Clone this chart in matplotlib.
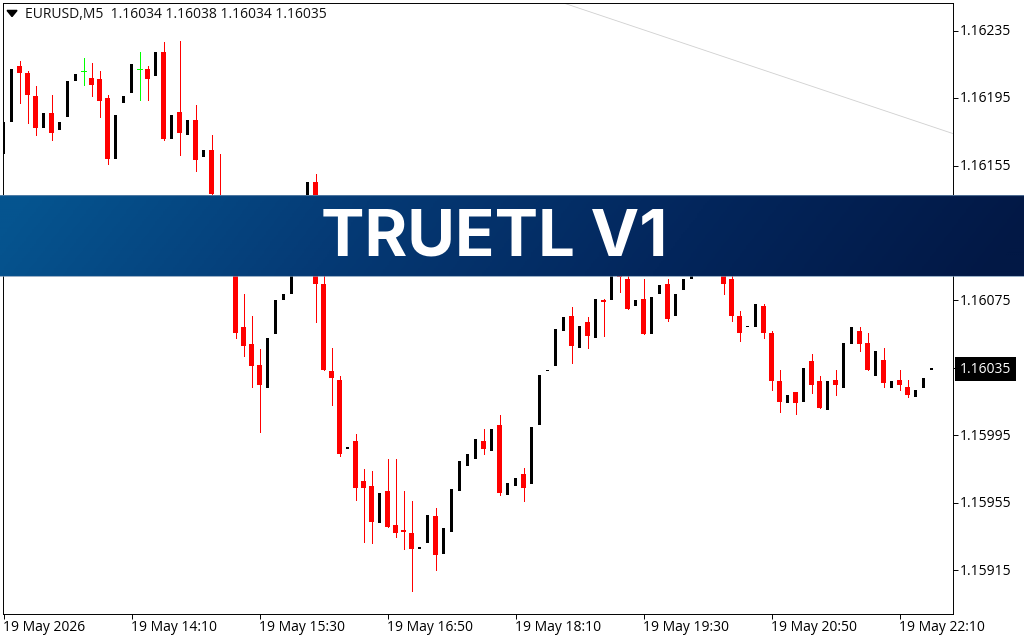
import numpy as np
import matplotlib
matplotlib.use('Agg')
import matplotlib.pyplot as plt
from matplotlib.colors import LinearSegmentedColormap
from matplotlib.transforms import blended_transform_factory

# EURUSD M5 bars (those behind the banner are guesses)
opens = [1.16162, 1.16181, 1.16214, 1.16210, 1.16196, 1.16177, 1.16186, 1.16176, 1.16184, 1.16205,
         1.16211, 1.16207, 1.16206, 1.16195, 1.16159, 1.16192, 1.16198, 1.16212, 1.16212, 1.16208,
         1.16222, 1.16171, 1.16187, 1.16173, 1.16182, 1.16160, 1.16164, 1.16137, 1.16115, 1.16102,
         1.16059, 1.16049, 1.16037, 1.16023, 1.16055, 1.16075, 1.16079, 1.16098, 1.16113, 1.16145,
         1.16085, 1.16033, 1.16028, 1.15987, 1.15992, 1.15968, 1.15965, 1.15943, 1.15962, 1.15942,
         1.15939, 1.15937, 1.15928, 1.15931, 1.15947, 1.15925, 1.15938, 1.15962, 1.15977, 1.15981,
         1.15992, 1.15986, 1.16001, 1.15960, 1.15965, 1.15972, 1.15966, 1.16001, 1.16033, 1.16036,
         1.16057, 1.16066, 1.16047, 1.16062, 1.16053, 1.16075, 1.16075, 1.16094, 1.16088, 1.16072,
         1.16076, 1.16055, 1.16079, 1.16085, 1.16066, 1.16081, 1.16088, 1.16098, 1.16111, 1.16105,
         1.16098, 1.16088, 1.16066, 1.16059, 1.16059, 1.16072, 1.16056, 1.16027, 1.16014, 1.16021,
         1.16015, 1.16039, 1.16027, 1.16010, 1.16028, 1.16023, 1.16049, 1.16057, 1.16050, 1.16030,
         1.16040, 1.16023, 1.16028, 1.16024, 1.16018, 1.16023, 1.16034]
highs = [1.16181, 1.16212, 1.16217, 1.16211, 1.16202, 1.16186, 1.16197, 1.16181, 1.16205, 1.16209,
         1.16219, 1.16216, 1.16211, 1.16197, 1.16185, 1.16196, 1.16215, 1.16222, 1.16214, 1.16222,
         1.16228, 1.16185, 1.16229, 1.16182, 1.16191, 1.16164, 1.16173, 1.16162, 1.16118, 1.16105,
         1.16079, 1.16066, 1.16046, 1.16053, 1.16075, 1.16079, 1.16099, 1.16113, 1.16145, 1.16150,
         1.16096, 1.16047, 1.16030, 1.15988, 1.15996, 1.15975, 1.15974, 1.15961, 1.15981, 1.15981,
         1.15962, 1.15956, 1.15929, 1.15948, 1.15952, 1.15940, 1.15963, 1.15980, 1.15984, 1.15993,
         1.15999, 1.15999, 1.16007, 1.15967, 1.15970, 1.15976, 1.16000, 1.16031, 1.16034, 1.16058,
         1.16065, 1.16071, 1.16060, 1.16065, 1.16076, 1.16076, 1.16094, 1.16100, 1.16098, 1.16075,
         1.16088, 1.16077, 1.16084, 1.16088, 1.16079, 1.16088, 1.16098, 1.16108, 1.16114, 1.16108,
         1.16100, 1.16093, 1.16069, 1.16060, 1.16073, 1.16073, 1.16057, 1.16034, 1.16019, 1.16021,
         1.16035, 1.16043, 1.16030, 1.16027, 1.16034, 1.16050, 1.16059, 1.16059, 1.16056, 1.16045,
         1.16047, 1.16027, 1.16034, 1.16028, 1.16022, 1.16029, 1.16038]
lows = [1.16162, 1.16181, 1.16192, 1.16180, 1.16173, 1.16177, 1.16170, 1.16176, 1.16184, 1.16205,
        1.16203, 1.16196, 1.16184, 1.16156, 1.16159, 1.16192, 1.16198, 1.16194, 1.16194, 1.16208,
        1.16170, 1.16171, 1.16161, 1.16173, 1.16152, 1.16160, 1.16136, 1.16111, 1.16100, 1.16053,
        1.16042, 1.16024, 1.15997, 1.16023, 1.16055, 1.16075, 1.16079, 1.16098, 1.16113, 1.16062,
        1.16034, 1.16013, 1.15983, 1.15987, 1.15957, 1.15932, 1.15931, 1.15943, 1.15941, 1.15935,
        1.15928, 1.15903, 1.15928, 1.15931, 1.15915, 1.15925, 1.15938, 1.15962, 1.15977, 1.15981,
        1.15984, 1.15986, 1.15960, 1.15960, 1.15965, 1.15956, 1.15966, 1.16001, 1.16033, 1.16036,
        1.16057, 1.16038, 1.16047, 1.16047, 1.16053, 1.16054, 1.16075, 1.16080, 1.16070, 1.16072,
        1.16055, 1.16055, 1.16079, 1.16063, 1.16066, 1.16081, 1.16088, 1.16098, 1.16098, 1.16090,
        1.16079, 1.16063, 1.16051, 1.16059, 1.16059, 1.16053, 1.16022, 1.16009, 1.16014, 1.16008,
        1.16015, 1.16020, 1.16011, 1.16010, 1.16019, 1.16023, 1.16049, 1.16045, 1.16034, 1.16030,
        1.16024, 1.16023, 1.16022, 1.16018, 1.16018, 1.16023, 1.16034]
closes = [1.16181, 1.16212, 1.16210, 1.16197, 1.16177, 1.16186, 1.16174, 1.16181, 1.16205, 1.16209,
          1.16211, 1.16203, 1.16193, 1.16159, 1.16185, 1.16196, 1.16215, 1.16212, 1.16206, 1.16222,
          1.16171, 1.16185, 1.16174, 1.16182, 1.16158, 1.16164, 1.16138, 1.16117, 1.16104, 1.16056,
          1.16048, 1.16036, 1.16025, 1.16053, 1.16075, 1.16079, 1.16099, 1.16113, 1.16145, 1.16085,
          1.16034, 1.16029, 1.15984, 1.15988, 1.15964, 1.15964, 1.15944, 1.15961, 1.15941, 1.15937,
          1.15938, 1.15928, 1.15929, 1.15948, 1.15924, 1.15940, 1.15963, 1.15980, 1.15984, 1.15993,
          1.15987, 1.15999, 1.15961, 1.15967, 1.15970, 1.15964, 1.16000, 1.16031, 1.16034, 1.16058,
          1.16065, 1.16048, 1.16060, 1.16054, 1.16076, 1.16074, 1.16094, 1.16089, 1.16070, 1.16075,
          1.16055, 1.16077, 1.16084, 1.16064, 1.16079, 1.16088, 1.16098, 1.16108, 1.16102, 1.16094,
          1.16085, 1.16066, 1.16056, 1.16060, 1.16073, 1.16056, 1.16027, 1.16015, 1.16019, 1.16014,
          1.16035, 1.16025, 1.16011, 1.16027, 1.16025, 1.16050, 1.16059, 1.16049, 1.16034, 1.16045,
          1.16026, 1.16027, 1.16025, 1.16019, 1.16022, 1.16029, 1.16035]
doji_bars = [10, 17]

time_ticks = [0, 16, 32, 48, 64, 80, 96, 112]
time_labels = ['19 May 2026', '19 May 14:10', '19 May 15:30', '19 May 16:50',
               '19 May 18:10', '19 May 19:30', '19 May 20:50', '19 May 22:10']
price_ticks = [1.16235, 1.16195, 1.16155, 1.16075, 1.15995, 1.15955, 1.15915]
last_price = 1.16035
trend_x = [70.2, 118.625]
trend_y = [1.16251, 1.16174]

W, H = 1024, 640
plt.rcParams['font.family'] = 'Open Sans'
LABEL_SIZE = 10

fig = plt.figure(figsize=(W / 100, H / 100), dpi=100, facecolor='white')
ax = fig.add_axes([2.5 / W, 1 - 613.5 / H, 950 / W, 611 / H])
ax.set_xlim(-0.125, 118.625)
ax.set_ylim(1.158895, 1.162516)

opens = np.array(opens)
closes = np.array(closes)
highs = np.array(highs)
lows = np.array(lows)
x = np.arange(len(opens))
up = closes > opens
down = closes < opens
down[doji_bars] = False

ax.plot(trend_x, trend_y, color='#d0d0d0', lw=0.6, zorder=1)

# red candles get wicks, black ones only show the body
ax.vlines(x[down], lows[down], highs[down], color='#ff0000', lw=0.7, antialiased=False, zorder=2)
ax.bar(x[down], (opens - closes)[down], bottom=closes[down], width=0.625, color='#ff0000',
       linewidth=0, antialiased=False, zorder=3)
ax.bar(x[up], (closes - opens)[up], bottom=opens[up], width=0.375, color='black',
       linewidth=0, antialiased=False, zorder=3)
ax.vlines(x[doji_bars], lows[doji_bars], highs[doji_bars], color='#00ff00', lw=0.7,
          antialiased=False, zorder=2)
ax.hlines(opens[doji_bars], x[doji_bars] - 0.3, x[doji_bars] + 0.3, color='#00ff00', lw=0.7,
          antialiased=False, zorder=2)

ax.yaxis.tick_right()
ax.set_yticks(price_ticks + [last_price], [''] * (len(price_ticks) + 1))
ax.set_xticks(time_ticks, [''] * len(time_ticks))
ax.tick_params(axis='both', length=3.6, width=0.7, color='black')
ytrans = blended_transform_factory(ax.transAxes, ax.transData)
for p in price_ticks:
    ax.annotate(f'{p:.5f}', (1, p), xycoords=ytrans, xytext=(5.3, -0.5), textcoords='offset points',
                ha='left', va='center', fontsize=LABEL_SIZE)
for t, lab in zip(time_ticks, time_labels):
    ax.annotate(lab, (t, 0), xycoords=ax.get_xaxis_transform(), xytext=(-0.5, -5),
                textcoords='offset points', ha='left', va='top', fontsize=LABEL_SIZE)
for s in ax.spines.values():
    s.set_linewidth(0.7)

# last price box
ax.annotate(f'{last_price:.5f}', (1, last_price), xycoords=ytrans, xytext=(5.3, -0.9),
            textcoords='offset points', ha='left', va='center', fontsize=LABEL_SIZE, color='white',
            bbox=dict(boxstyle='square,pad=0.32', fc='black', ec='none'), annotation_clip=False)

# header: little triangle and the OHLC line
ax.fill([0.0048, 0.0153, 0.0100], [0.9870, 0.9870, 0.9770], color='black', transform=ax.transAxes)
fig.text(25 / W, 1 - 15 / H, 'EURUSD,M5  1.16034 1.16038 1.16034 1.16035', fontsize=LABEL_SIZE,
         ha='left', va='center', color='#111111')

# banner over the chart
cmap = LinearSegmentedColormap.from_list('banner', ['#05548f', '#053a75', '#03265c', '#021845'])
bx = fig.add_axes([0, 1 - 276.5 / H, 1, 81.5 / H], zorder=5)
gx, gy = np.meshgrid(np.linspace(0, 1, 512), np.linspace(0, 1, 40))
bx.imshow(gx + 0.06 * (gy - 0.5), cmap=cmap, aspect='auto', extent=(0, 1, 0, 1), vmin=0, vmax=1)
bx.axhline(0.994, color='#6f8fb0', lw=0.8, alpha=0.7)
bx.axhline(0.006, color='#6f8fb0', lw=0.8, alpha=0.7)
bx.set_axis_off()
bx.text(0.4825, 0.545, 'TRUETL V1', color='white', fontsize=47, fontfamily='Inter', fontweight='bold',
        ha='center', va='center_baseline')

fig.savefig('out.png', dpi=100)
